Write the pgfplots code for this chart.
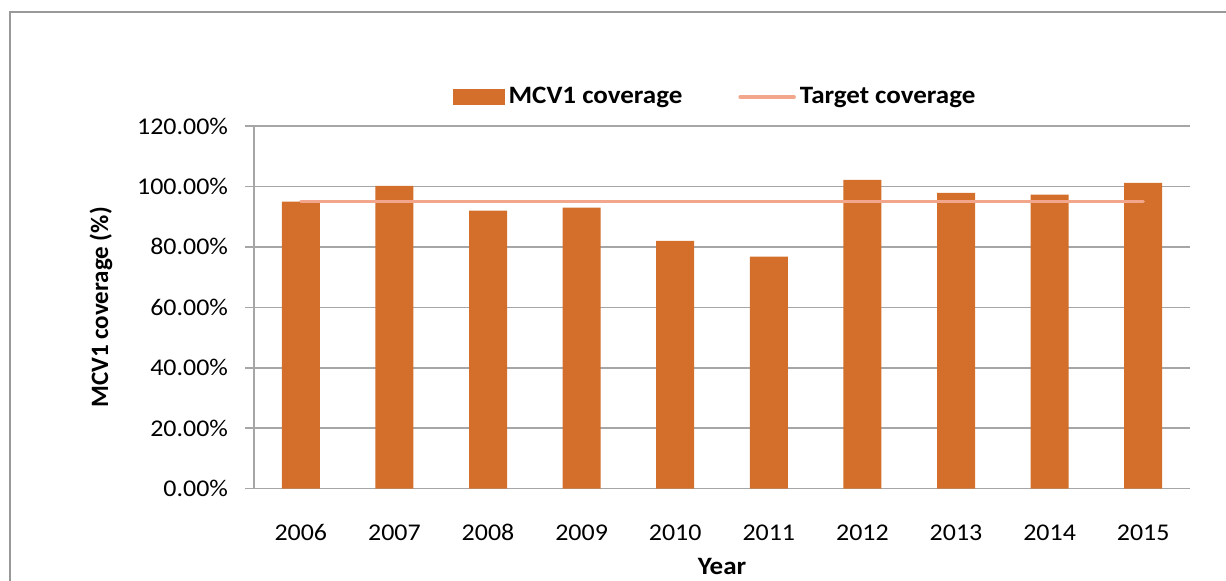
\documentclass[border=0pt]{standalone}
\usepackage{pgfplots}
\pgfplotsset{compat=1.18}
\usepackage{fontspec}
\setmainfont[FakeStretch=1.08]{Carlito}
\newfontfamily\ylabfont{Carlito}
\definecolor{barc}{HTML}{D36F2A}
\definecolor{tgt}{HTML}{F2A68B}
\definecolor{gridc}{HTML}{A6A6A6}
\definecolor{framec}{HTML}{999999}
\begin{document}
\begin{tikzpicture}
\begin{axis}[
  at={(0,0)}, anchor=south west,
  scale only axis, width=468pt, height=181.35pt,
  xmin=-0.5, xmax=9.5, ymin=0, ymax=120,
  xtick={0,1,2,3,4,5,6,7,8,9},
  xticklabels={2006,2007,2008,2009,2010,2011,2012,2013,2014,2015},
  ytick={0,20,40,60,80,100,120},
  yticklabels={0.00\%,20.00\%,40.00\%,60.00\%,80.00\%,100.00\%,120.00\%},
  ymajorgrids, grid style={gridc, line width=0.75pt},
  axis x line*=bottom, axis y line*=left,
  axis line style={gridc, line width=0.75pt, -},
  x tick style={draw=none},
  y tick style={gridc, line width=0.75pt},
  tick align=outside, major tick length=4.5pt,
  ticklabel style={font=\fontsize{12}{14}\selectfont},
  xticklabel style={anchor=base, yshift=-21.5pt},
  yticklabel style={anchor=east, xshift=-5pt},
  ylabel={MCV1 coverage (\%)},
  ylabel style={font=\fontsize{12.5}{14}\ylabfont\bfseries, at={(axis description cs:-0.1635,0.5)}, anchor=center},
  xlabel={Year},
  xlabel style={font=\fontsize{12.5}{14}\selectfont\bfseries, at={(axis description cs:0.5,-0.214)}, anchor=center},
  legend style={at={(axis description cs:0.4936,1.08)}, anchor=center, draw=none, fill=none,
    font=\fontsize{12.5}{14}\selectfont\bfseries, legend columns=2,
    /tikz/every even column/.append style={column sep=26pt}},
]
\addplot[ybar, bar width=19pt, fill=barc, draw=none,
  legend image code/.code={\fill[barc] (0pt,-4pt) rectangle (26pt,4pt);}]
  coordinates {(0,95) (1,100.2) (2,92) (3,93) (4,82) (5,76.8) (6,102.2) (7,97.9) (8,97.3) (9,101.2)};
\addlegendentry{MCV1 coverage}
\addplot[tgt, line width=1.75pt, line cap=round, mark=none,
  legend image code/.code={\draw[tgt, line width=1.75pt, line cap=round] (0pt,0pt) -- (27pt,0pt);}]
  coordinates {(0,95) (9,95)};
\addlegendentry{Target coverage}
\end{axis}
\draw[framec, line width=1pt] (-122pt,-60pt) -- (-122pt,238.5pt) -- (520pt,238.5pt);
\pgfresetboundingbox
\useasboundingbox (-127pt,-46.15pt) rectangle (486pt,244.35pt);
\end{tikzpicture}
\end{document}
